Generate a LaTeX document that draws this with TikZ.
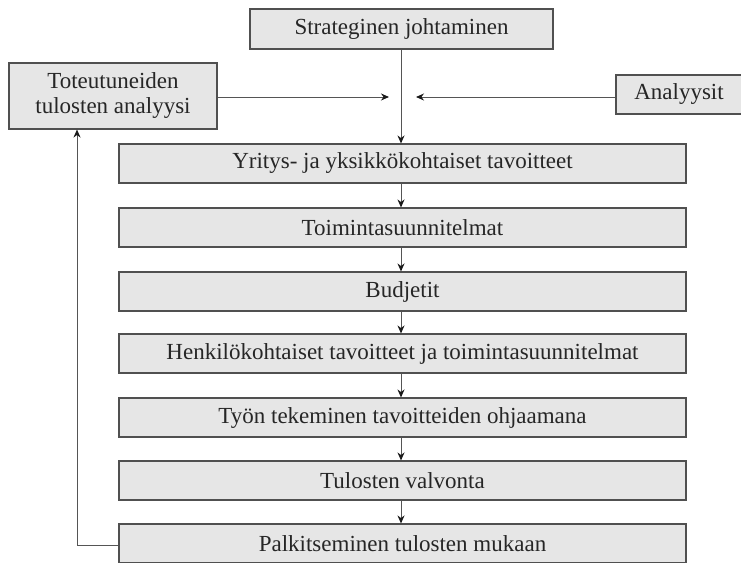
\documentclass[tikz,border=0pt]{standalone}
\usepackage{fontspec}
\setmainfont{Liberation Serif}
\usetikzlibrary{arrows.meta}
\definecolor{boxfill}{HTML}{E6E6E6}
\definecolor{boxline}{HTML}{505050}
\definecolor{conn}{HTML}{555555}
\begin{document}
\begin{tikzpicture}[x=1pt,y=-1pt,
  box/.style={draw=boxline,fill=boxfill,line width=1.1pt,minimum height=39pt,inner sep=0pt,font=\fontsize{23}{24}\selectfont,text=black!85},
  mainbox/.style={box,minimum width=567pt},
  conn/.style={draw=conn,line width=1pt},
  arr/.style={conn,-{Stealth[length=8pt,width=7pt,color=black!90]}}]
\useasboundingbox (0,0) rectangle (741,562);
\node[box,minimum width=303pt,minimum height=40pt] (strat) at (401.5,29) {Strateginen johtaminen};
\node[box,minimum width=208pt,minimum height=66pt,align=center,font=\fontsize{23}{25}\selectfont] (tot) at (113,96) {Toteutuneiden\\tulosten analyysi};
\node[box,minimum width=126pt] (ana) at (679,94.5) {Analyysit};
\node[mainbox] (b1) at (402.5,163.5) {Yritys- ja yksikkökohtaiset tavoitteet};
\node[mainbox] (b2) at (402.5,227.5) {Toimintasuunnitelmat};
\node[mainbox] (b3) at (402.5,291.5) {Budjetit};
\node[mainbox] (b4) at (402.5,353.5) {Henkilökohtaiset tavoitteet ja toimintasuunnitelmat};
\node[mainbox] (b5) at (402.5,417.5) {Työn tekeminen tavoitteiden ohjaamana};
\node[mainbox] (b6) at (402.5,480.5) {Tulosten valvonta};
\node[mainbox] (b7) at (402.5,543.5) {Palkitseminen tulosten mukaan};
\coordinate (lt) at (389,97);
\coordinate (rt) at (416,97);
\coordinate (fb) at (77,0);
\draw[arr] (strat.south -| 401,0) -- (b1.north -| 401,0);
\draw[arr] (tot.east |- lt) -- (lt);
\draw[arr] (ana.west |- rt) -- (rt);
\foreach \a/\b in {b1/b2,b2/b3,b3/b4,b4/b5,b5/b6,b6/b7}
  \draw[arr] (\a.south -| 401,0) -- (\b.north -| 401,0);
\draw[arr] (b7.west |- 0,545) -| (fb |- tot.south);
\end{tikzpicture}
\end{document}
